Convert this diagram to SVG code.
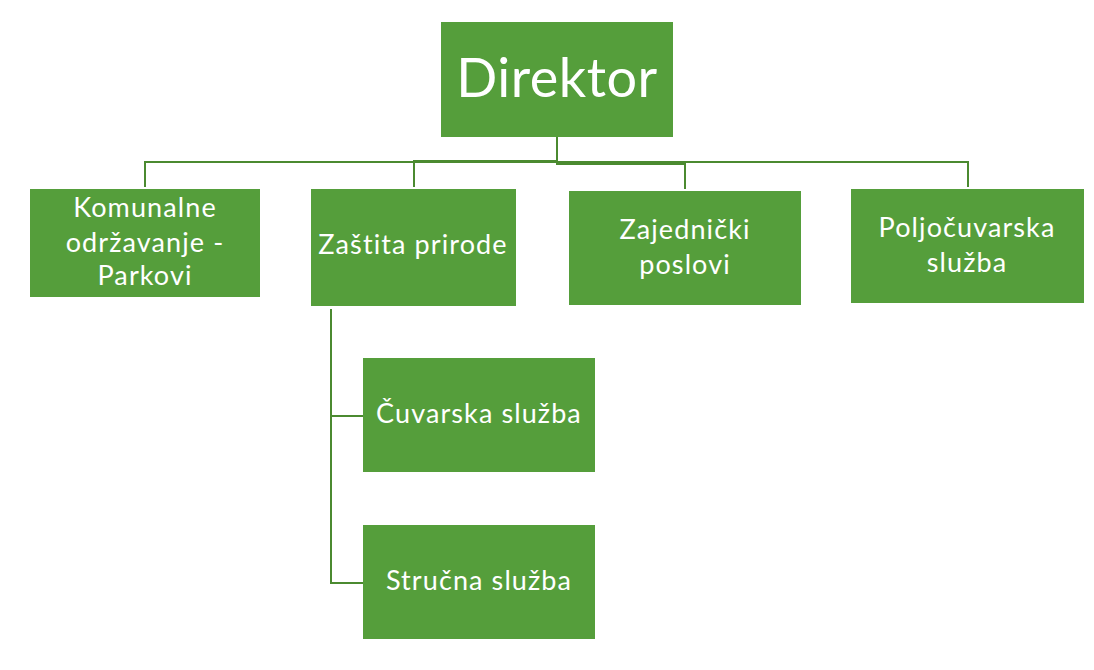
<svg xmlns="http://www.w3.org/2000/svg" width="1094" height="670" viewBox="0 0 1094 670">
<style>
.box{fill:#559E3B;}
.t{fill:#ffffff;font-family:Lato,"Open Sans","Liberation Sans",sans-serif;font-size:27px;letter-spacing:1.1px;text-anchor:middle;}
.big{font-size:54px;letter-spacing:0.5px;}
.c{fill:none;stroke:#4B8A30;stroke-width:2;}
</style>
<rect width="1094" height="670" fill="#ffffff"/>
<g id="connectors">
<path class="c" d="M557,137 V162 H145 V187"/>
<path class="c" d="M557,137 V161 H414 V187"/>
<path class="c" d="M557,137 V164 H685 V189"/>
<path class="c" d="M557,137 V162 H968 V187"/>
<path class="c" d="M331,309 V583 H363"/>
<path class="c" d="M331,416 H363"/>
</g>
<g id="direktor"><rect class="box" x="441" y="22" width="232" height="115"/><text class="t big" x="557" y="97">Direktor</text></g>
<g id="komunalne"><rect class="box" x="30" y="189" width="230" height="108"/><text class="t" x="145" y="217">Komunalne</text><text class="t" x="145" y="252">održavanje -</text><text class="t" x="145" y="285">Parkovi</text></g>
<g id="zastita"><rect class="box" x="311" y="189" width="205" height="117"/><text class="t" x="413" y="254">Zaštita prirode</text></g>
<g id="zajednicki"><rect class="box" x="569" y="191" width="232" height="114"/><text class="t" x="685" y="239">Zajednički</text><text class="t" x="685" y="274">poslovi</text></g>
<g id="poljocuvarska"><rect class="box" x="851" y="189" width="233" height="114"/><text class="t" x="967" y="237">Poljočuvarska</text><text class="t" x="967" y="272">služba</text></g>
<g id="cuvarska"><rect class="box" x="363" y="358" width="232" height="114"/><text class="t" x="479" y="423">Čuvarska služba</text></g>
<g id="strucna"><rect class="box" x="363" y="525" width="232" height="114"/><text class="t" x="479" y="590">Stručna služba</text></g>
</svg>
